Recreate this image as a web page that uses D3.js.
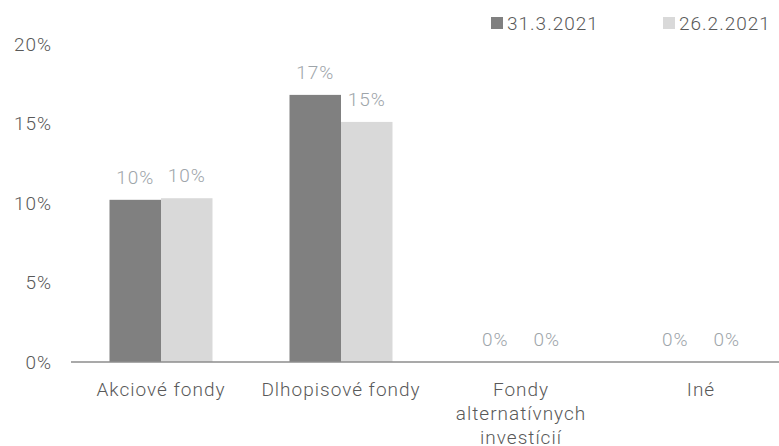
<!DOCTYPE html>
<html><head><meta charset="utf-8">
<script src="https://cdn.jsdelivr.net/npm/d3@7"></script>
<style>body{margin:0;background:#fff}svg{display:block}text{font-family:"Helvetica Neue",Roboto,"Liberation Sans",sans-serif;font-weight:300;letter-spacing:1px}</style>
</head><body><svg id="c" width="779" height="446"></svg>
<script>
const categories = [["Akciové fondy"], ["Dlhopisové fondy"], ["Fondy", "alternatívnych", "investícií"], ["Iné"]];
const seriesNames = ["31.3.2021", "26.2.2021"];
const values_31_3 = [10.2, 16.8, 0, 0];
const values_26_2 = [10.3, 15.1, 0, 0];
const yTicks = [0, 5, 10, 15, 20];
const colors = ["#808080", "#d9d9d9"];

const FS = 19;
const svg = d3.select("#c");
const x0 = d3.scaleBand().domain(d3.range(categories.length)).range([71, 791]).paddingInner(0).paddingOuter(0);
const groupW = 103;
const x1 = d3.scaleBand().domain([0, 1]).range([0, groupW]);
const y = d3.scaleLinear().domain([0, 20]).range([362, 44]);
const series = [values_31_3, values_26_2];

// y tick labels
svg.append("g").selectAll("text").data(yTicks).join("text")
  .attr("x", 52).attr("y", d => y(d)).attr("dy", "0.35em")
  .attr("text-anchor", "end").attr("font-size", FS).attr("fill", "#595959")
  .text(d => d + "%");

// bars
series.forEach((vals, si) => {
  svg.append("g").selectAll("rect").data(vals).join("rect")
    .attr("x", (d, i) => x0(i) + x0.bandwidth() / 2 - groupW / 2 + x1(si))
    .attr("width", x1.bandwidth())
    .attr("y", d => y(d))
    .attr("height", d => y(0) - y(d))
    .attr("fill", colors[si]);
  svg.append("g").selectAll("text").data(vals).join("text")
    .attr("x", (d, i) => x0(i) + x0.bandwidth() / 2 - groupW / 2 + x1(si) + x1.bandwidth() / 2)
    .attr("y", d => y(d) - 16)
    .attr("text-anchor", "middle").attr("font-size", FS).attr("fill", "#9ea5aa")
    .text(d => Math.round(d) + "%");
});

// axis line
svg.append("line").attr("x1", 71).attr("x2", 779).attr("y1", y(0)).attr("y2", y(0))
  .attr("stroke", "#8c8c8c").attr("stroke-width", 1.5);

// category labels
const cat = svg.append("g").selectAll("text").data(categories).join("text")
  .attr("x", (d, i) => x0(i) + x0.bandwidth() / 2)
  .attr("y", 396)
  .attr("text-anchor", "middle").attr("font-size", FS).attr("fill", "#595959");
cat.selectAll("tspan").data(d => d).join("tspan")
  .attr("x", function () { return d3.select(this.parentNode).attr("x"); })
  .attr("dy", (d, j) => j === 0 ? 0 : 24)
  .text(d => d);

// legend
const legX = [491, 663];
seriesNames.forEach((n, i) => {
  svg.append("rect").attr("x", legX[i]).attr("y", 17).attr("width", 12).attr("height", 12).attr("fill", colors[i]);
  svg.append("text").attr("x", legX[i] + 16).attr("y", 23).attr("dy", "0.35em")
    .attr("font-size", FS).attr("fill", "#595959").text(n);
});
</script></body></html>
